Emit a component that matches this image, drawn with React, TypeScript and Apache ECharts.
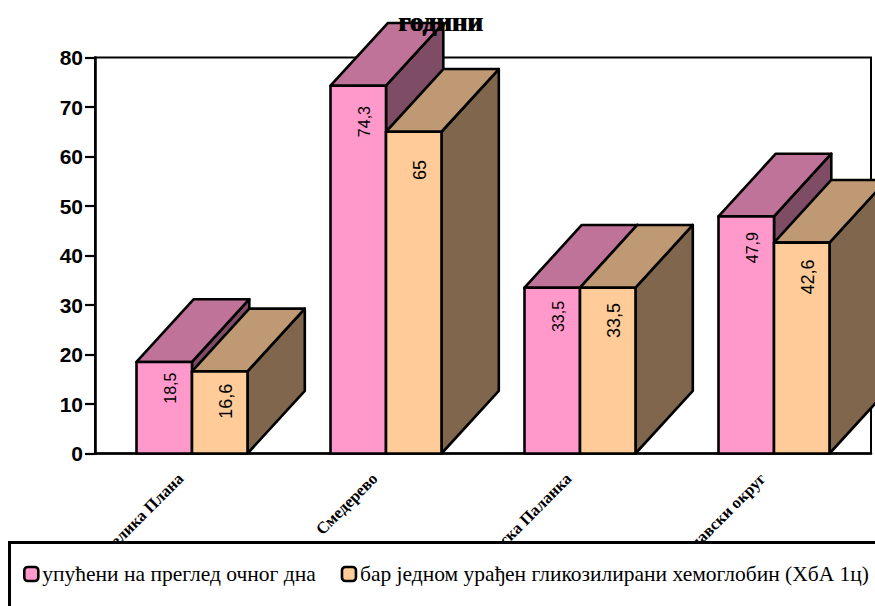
import React, { useEffect, useRef } from "react";
import * as echarts from "echarts";

const categories = ["Велика Плана", "Смедерево", "Смедеревска Паланка", "Подунавски округ"];
const referredValues = [18.5, 74.3, 33.5, 47.9];
const testedValues = [16.6, 65, 33.5, 42.6];
const seriesNames = ["упућени на преглед очног дна", "бар једном урађен гликозилирани хемоглобин (ХбА 1ц)"];
const yTicks = [0, 10, 20, 30, 40, 50, 60, 70, 80];
const titleText = "години";

const BAR_WIDTH = 55.5;
const DEPTH_X = 57.3;
const DEPTH_Y = 62.7;

function box(front: string, top: string, side: string, seriesIndex: number, fontSize: number, labelBase: number) {
  return (params: any, api: any) => {
    const cat = api.value(0);
    const val = api.value(1);
    const [cx, yTop] = api.coord([cat, val]);
    const [, yBase] = api.coord([cat, 0]);
    const x0 = seriesIndex === 0 ? cx - BAR_WIDTH : cx;
    const x1 = x0 + BAR_WIDTH;
    const stroke = { stroke: "#000", lineWidth: 2.6, lineJoin: "round" };
    const height = yBase - yTop;
    const labelText = String(val).replace(".", ",");
    return {
      type: "group",
      children: [
        { type: "polygon", shape: { points: [[x1, yTop], [x1 + DEPTH_X, yTop - DEPTH_Y], [x1 + DEPTH_X, yBase - DEPTH_Y], [x1, yBase]] }, style: { fill: side, ...stroke } },
        { type: "polygon", shape: { points: [[x0, yTop], [x0 + DEPTH_X, yTop - DEPTH_Y], [x1 + DEPTH_X, yTop - DEPTH_Y], [x1, yTop]] }, style: { fill: top, ...stroke } },
        { type: "rect", shape: { x: x0, y: yTop, width: BAR_WIDTH, height }, style: { fill: front, ...stroke } },
        {
          type: "text",
          x: (x0 + x1) / 2 + 6,
          y: yTop + labelBase + 0.035 * height,
          rotation: Math.PI / 2,
          style: { text: labelText, fill: "#000", font: `${fontSize}px "Liberation Sans"`, align: "center", verticalAlign: "middle" },
        },
      ],
    };
  };
}

export default function App() {
  const ref = useRef<HTMLDivElement>(null);
  useEffect(() => {
    document.body.style.margin = "0";
    document.body.style.overflow = "hidden";
    const chart = echarts.init(ref.current!, null, { renderer: "svg" });
    const titleBase = { text: titleText, textStyle: { fontFamily: "Liberation Serif", fontWeight: "bold" as const, fontSize: 27, color: "#000" }, padding: 0, z: 20 };
    chart.setOption({
      animation: false,
      backgroundColor: "#fff",
      title: [
        { ...titleBase, left: 398, top: 8 },
        { ...titleBase, left: 399, top: 8 },
      ],
      grid: { left: 95, top: 57.5, width: 776, height: 396, show: true, borderColor: "#000", borderWidth: 2, backgroundColor: "#fff", containLabel: false },
      xAxis: {
        type: "category",
        data: categories,
        axisLine: { lineStyle: { color: "#000", width: 2.6 } },
        axisTick: { show: false },
        axisLabel: { rotate: 45, interval: 0, color: "#000", fontFamily: "Liberation Serif", fontWeight: "bold", fontSize: 16.5, margin: 11, padding: [0, 16, 0, 0] },
      },
      yAxis: {
        type: "value",
        min: 0,
        max: 80,
        interval: 10,
        splitLine: { show: false },
        axisLine: { show: true, lineStyle: { color: "#000", width: 2.6 } },
        axisTick: { show: true, length: 10, lineStyle: { color: "#000", width: 2.2 } },
        axisLabel: { color: "#000", fontFamily: "Liberation Sans", fontWeight: "bold", fontSize: 21, margin: 12, formatter: (v: number) => (yTicks.includes(v) ? String(v) : "") },
      },
      legend: {
        left: 23,
        top: 563,
        width: 1000,
        z: 11,
        padding: 0,
        itemWidth: 14,
        itemHeight: 14,
        itemGap: 25,
        icon: "roundRect",
        selectedMode: false,
        itemStyle: { borderColor: "#000", borderWidth: 2.6 },
        textStyle: { color: "#000", fontFamily: "Liberation Serif", fontSize: 21.5, padding: [1, 0, 0, -1] },
        data: seriesNames,
      },
      graphic: [
        { type: "rect", z: 10, shape: { x: 9.5, y: 542.5, width: 900, height: 120 }, style: { fill: "#fff", stroke: "#000", lineWidth: 3 } },
      ],
      series: [
        {
          type: "custom",
          name: seriesNames[0],
          itemStyle: { color: "#FF99CC" },
          z: 3,
          renderItem: box("#FF99CC", "#BF7399", "#7F4C66", 0, 16, 23),
          data: referredValues.map((v, i) => [i, v]),
          encode: { x: 0, y: 1 },
        },
        {
          type: "custom",
          name: seriesNames[1],
          itemStyle: { color: "#FFCC99" },
          z: 4,
          renderItem: box("#FFCC99", "#BF9973", "#7F664C", 1, 18, 27),
          data: testedValues.map((v, i) => [i, v]),
          encode: { x: 0, y: 1 },
        },
      ],
    });
    return () => chart.dispose();
  }, []);
  return <div ref={ref} style={{ width: 875, height: 606 }} />;
}
